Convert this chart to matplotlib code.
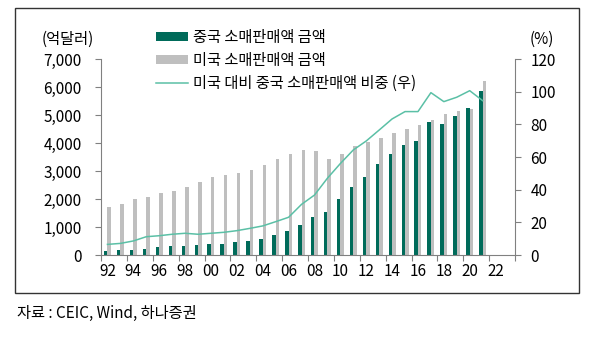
import matplotlib
matplotlib.use("Agg")
import matplotlib.pyplot as plt
import matplotlib.ticker as mticker
from matplotlib.patches import Rectangle

plt.rcParams['font.family'] = ['Noto Sans CJK KR', 'DejaVu Sans']

# data
years = list(range(1992, 2022))
china_sales = [131, 179, 179, 226, 274, 310, 310, 357, 405, 405, 452, 488, 583, 702, 845,
               1060, 1369, 1548, 1988, 2429, 2774, 3250, 3607, 3917, 4060, 4762, 4679,
               4964, 5238, 5857]
us_sales = [1725, 1810, 1988, 2083, 2214, 2298, 2429, 2607, 2786, 2869, 2917, 3036, 3226,
            3440, 3619, 3750, 3702, 3429, 3607, 3881, 4048, 4190, 4357, 4488, 4631, 4810,
            5024, 5155, 5202, 6214]
ratio = [6.5, 7.1, 8.6, 11.2, 11.8, 12.7, 13.3, 12.7, 13.3, 13.9, 14.9, 16.3, 17.8, 20.4,
         23.1, 31.0, 36.7, 47.0, 56.0, 64.3, 69.8, 76.5, 83.3, 87.8, 87.8, 99.4, 93.9,
         96.6, 100.6, 94.5]
label_years = list(range(1992, 2023, 2))
tick_labels = [f"{y % 100:02d}" for y in label_years]

GREEN = '#006B5A'
GRAY = '#BFBFBF'
LINE = '#5BC0A6'
AXIS = '#808080'
FS = 11

fig = plt.figure(figsize=(5.95, 3.37), dpi=100)
ax = fig.add_axes([101 / 595, 1 - 255 / 337, 414 / 595, 196 / 337])
ax2 = ax.twinx()

w = 0.27
b1 = ax.bar([y - w / 2 for y in years], china_sales, width=w, color=GREEN,
            label='중국 소매판매액 금액')
b2 = ax.bar([y + w / 2 for y in years], us_sales, width=w, color=GRAY,
            label='미국 소매판매액 금액')
l1, = ax2.plot(years, ratio, color=LINE, lw=1.1, label='미국 대비 중국 소매판매액 비중 (우)')

ax.set_xlim(1991.5, 2023.5)
ax.set_ylim(0, 7000)
ax2.set_ylim(0, 120)
ax.set_yticks(range(0, 7001, 1000))
ax.yaxis.set_major_formatter(mticker.FuncFormatter(lambda v, p: f"{int(v):,}"))
ax2.set_yticks(range(0, 121, 20))

# tick marks at category boundaries, labels at category centres
ax.set_xticks([y - 0.5 for y in range(1992, 2025, 2)])
ax.set_xticklabels([])
ax.set_xticks(label_years, minor=True)
ax.set_xticklabels(tick_labels, minor=True)
ax.tick_params(axis='x', which='minor', length=0, pad=6, labelsize=FS)
ax.tick_params(axis='x', which='major', length=4, color=AXIS, width=0.8)
ax.tick_params(axis='y', length=4, color=AXIS, width=0.8, pad=10, labelsize=FS)
ax2.tick_params(axis='y', length=4, color=AXIS, width=0.8, pad=7, labelsize=FS)

for a in (ax, ax2):
    a.spines['top'].set_visible(False)
    for s in ('left', 'right', 'bottom'):
        a.spines[s].set_color(AXIS)
        a.spines[s].set_linewidth(0.8)
ax.spines['right'].set_visible(False)
ax2.spines['left'].set_visible(False)
ax2.spines['bottom'].set_visible(False)

fig.text(68 / 595, 1 - 39 / 337, '(억달러)', ha='center', va='center', fontsize=FS)
fig.text(542 / 595, 1 - 39 / 337, '(%)', ha='center', va='center', fontsize=FS)

fig.legend(handles=[b1, b2, l1], loc='upper left',
           bbox_to_anchor=(156 / 595, 1 - 29 / 337), frameon=False, fontsize=FS,
           handlelength=2.1, handleheight=0.5, handletextpad=0.3, labelspacing=0.38,
           borderpad=0, borderaxespad=0)

fig.text(17 / 595, 1 - 313 / 337, '자료 : CEIC, Wind, 하나증권', ha='left', va='center',
         fontsize=FS)

fig.patches.append(Rectangle((15 / 595, 1 - 293 / 337), 564 / 595, 285 / 337,
                             transform=fig.transFigure, fill=False, edgecolor='#333333',
                             linewidth=1))

fig.savefig('out.png', dpi=100)
